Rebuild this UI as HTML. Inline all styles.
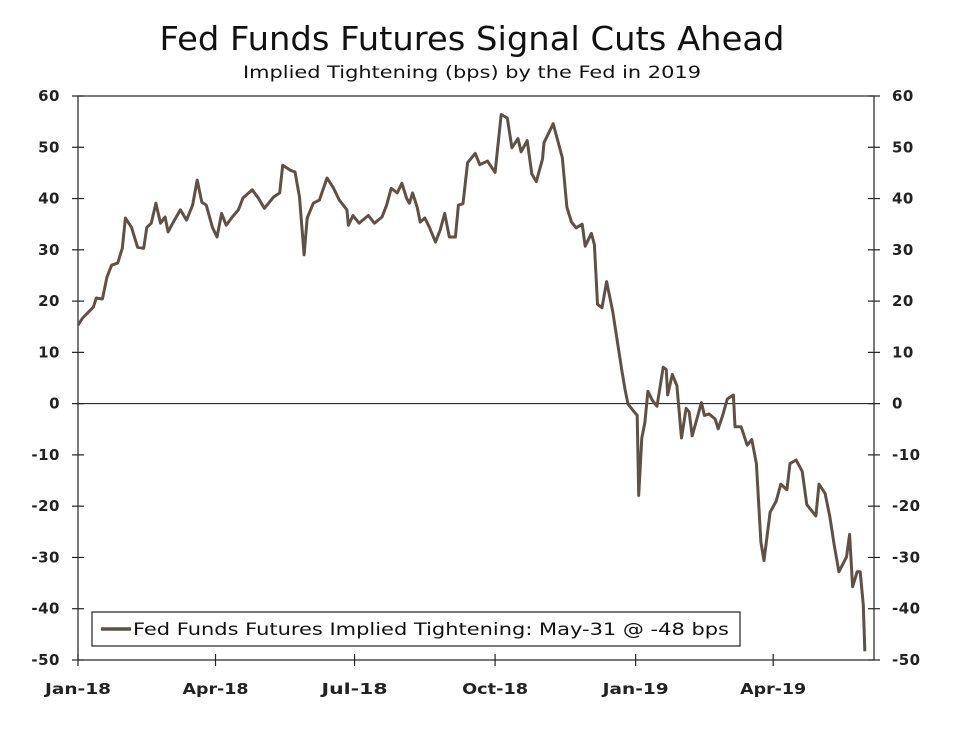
<!DOCTYPE html>
<html><head><meta charset="utf-8"><style>
body{margin:0;background:#fff;width:960px;height:737px;overflow:hidden;font-family:"DejaVu Sans","Liberation Sans",sans-serif;}
svg text{font-family:"DejaVu Sans","Liberation Sans",sans-serif;}
</style></head><body>
<svg id="chart" width="960" height="737" xmlns="http://www.w3.org/2000/svg">
<text x="472" y="50" font-size="33" text-anchor="middle" textLength="625" lengthAdjust="spacingAndGlyphs" fill="#111">Fed Funds Futures Signal Cuts Ahead</text>
<text x="472" y="78" font-size="16.5" text-anchor="middle" textLength="458" lengthAdjust="spacingAndGlyphs" fill="#111">Implied Tightening (bps) by the Fed in 2019</text>
<g id="axes"></g>
<g id="series"></g>
<g>
<rect x="92" y="612" width="648" height="34" fill="#fff" stroke="#222" stroke-width="1.2"/>
<line x1="101" y1="629" x2="131" y2="629" stroke="#5e5148" stroke-width="3.5"/>
<text x="133" y="635" font-size="17" textLength="596" lengthAdjust="spacingAndGlyphs" fill="#111">Fed Funds Futures Implied Tightening: May-31 @ -48 bps</text>
</g>
</svg>
<script>
const days=[0,3,10,12,16,19,22,26,29,31,35,39,43,45,48,51,54,57,59,62,67,71,75,78,81,84,88,91,94,97,101,105,108,114,118,122,128,132,134,139,142,145,148,150,154,158,163,167,171,176,177,180,184,190,194,199,202,205,209,212,215,217,219,222,224,227,230,234,237,240,243,247,249,252,255,260,263,268,273,277,281,284,288,290,294,297,300,304,305,311,317,320,323,326,330,332,336,338,340,343,346,350,353,356,358,360,364,366,367,369,371,373,376,379,383,385,386,389,392,395,398,400,402,406,408,410,413,417,419,422,425,429,430,434,438,441,444,447,449,453,457,460,464,466,470,474,477,481,483,485,489,492,495,498,503,505,507,510,512,514,515];
const values=[15.3,16.7,18.8,20.6,20.4,24.7,27,27.4,30.3,36.2,34.4,30.5,30.3,34.4,35.2,39.1,35.2,36.4,33.5,35.2,37.8,35.8,38.7,43.6,39.3,38.7,34.4,32.5,37.1,34.8,36.4,37.8,40.1,41.7,40.1,38.1,40.3,41.1,46.5,45.5,45.2,40.3,29,36.2,39.1,39.7,44,42.2,39.7,37.8,34.8,36.7,35.2,36.7,35.2,36.4,38.7,42,41.1,43,40.1,39.1,41.1,38.3,35.4,36.2,34.4,31.5,33.8,37.1,32.5,32.5,38.7,39,47,48.8,46.6,47.3,45.1,56.4,55.7,49.9,51.7,49.1,51.3,44.8,43.3,47.7,50.9,54.6,48,38.3,35.4,34.3,35,30.7,33.2,31,19.4,18.7,23.8,18,12.2,6.4,2.8,-0.1,-1.6,-2.3,-17.9,-6.7,-3.8,2.4,0.6,-0.5,7.1,6.7,1.7,5.7,3.5,-6.7,-0.9,-1.6,-6.3,-2,0.2,-2.3,-2,-3,-4.9,-2.3,0.9,1.7,-4.5,-4.5,-8.1,-7,-11.7,-27,-30.6,-21.2,-19,-15.7,-16.8,-11.7,-11,-13.2,-19.7,-21.2,-21.9,-15.7,-17.5,-21.9,-27.7,-32.8,-29.9,-25.5,-35.7,-32.8,-32.8,-39.3,-48.3];
const yTicks=[60,50,40,30,20,10,0,-10,-20,-30,-40,-50];
const xTickDays=[0,90,181,273,365,455];
const xTickLabels=["Jan-18","Apr-18","Jul-18","Oct-18","Jan-19","Apr-19"];
const L=78,R=874,T=96,B=660,yMax=60,yMin=-50,dMax=521;
const X=d=>L+(d/dMax)*(R-L);
const Y=v=>T+(yMax-v)/(yMax-yMin)*(B-T);
const NS="http://www.w3.org/2000/svg";
function mk(tag,attrs,parent){const e=document.createElementNS(NS,tag);for(const k in attrs)e.setAttribute(k,attrs[k]);parent.appendChild(e);return e;}
const ax=document.getElementById('axes');
const frame=mk('rect',{x:L,y:T,width:R-L,height:B-T,fill:'none',stroke:'#222','stroke-width':1.2},ax);


const zl=mk('line',{x1:L,x2:R,y1:Y(0),y2:Y(0),stroke:'#111','stroke-width':1},ax);


yTicks.forEach(v=>{
  const y=Y(v);
  mk('line',{x1:L-6,x2:L+6,y1:y,y2:y,stroke:'#222','stroke-width':1.2},ax);
  mk('line',{x1:R-6,x2:R+6,y1:y,y2:y,stroke:'#222','stroke-width':1.2},ax);
  const t1=mk('text',{x:L-18,y:y+5,'font-size':15,'font-weight':'bold','letter-spacing':0.5,'text-anchor':'end',fill:'#222'},ax);t1.textContent=v;
  
  
  const t2=mk('text',{x:R+18,y:y+5,'font-size':15,'font-weight':'bold','letter-spacing':0.5,'text-anchor':'start',fill:'#222'},ax);t2.textContent=v;
  
  
});
xTickDays.forEach((d,i)=>{
  const x=X(d);
  mk('line',{x1:x,x2:x,y1:B-6,y2:B+6,stroke:'#222','stroke-width':1.2},ax);
  const t=mk('text',{x:x,y:B+34,'font-size':15.5,'font-weight':'bold','text-anchor':'middle',textLength:66,lengthAdjust:'spacingAndGlyphs',fill:'#222'},ax);t.textContent=xTickLabels[i];
  
  
});
const p=mk('polyline',{points:days.map((d,i)=>X(d).toFixed(1)+','+Y(values[i]).toFixed(1)).join(' '),fill:'none',stroke:'#5e5148','stroke-width':3,'stroke-linejoin':'round'},document.getElementById('series'));


</script>
</body></html>
